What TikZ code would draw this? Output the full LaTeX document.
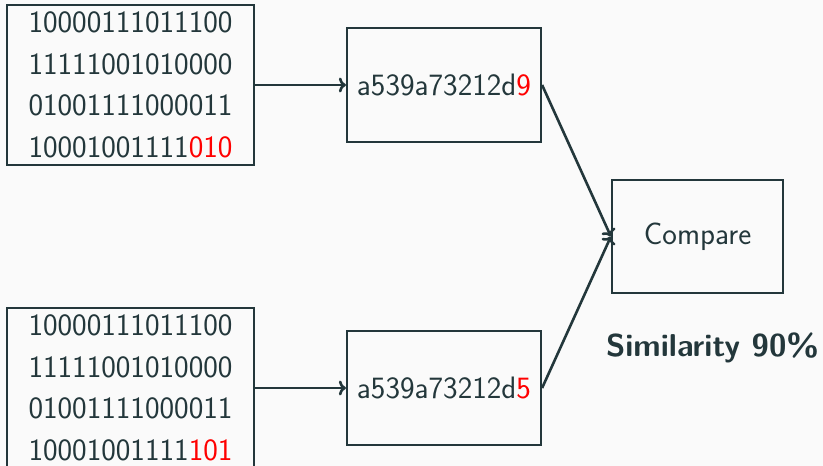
\documentclass[tikz,border=0pt]{standalone}
\usetikzlibrary{arrows.meta}
\definecolor{fg}{HTML}{23373B}
\definecolor{bg}{HTML}{FAFAFA}
\definecolor{hl}{HTML}{FF0000}
\begin{document}
\begin{tikzpicture}[x=1pt,y=1pt,
  every node/.style={font=\sffamily\fontsize{31}{41.6}\selectfont, text=fg},
  bits/.style={draw=fg, line width=2.2pt, minimum width=247, minimum height=160, inner sep=0pt, align=left},
  hashbox/.style={draw=fg, line width=2.2pt, minimum width=194, minimum height=114, inner sep=0pt},
  cmpbox/.style={draw=fg, line width=2.2pt, minimum width=171, minimum height=113, inner sep=0pt},
  conn/.style={draw=fg, line width=2.6pt, -{Computer Modern Rightarrow[length=7pt,width=15pt]}}]
\fill[bg] (0,0) rectangle (823,-466);
\useasboundingbox (0,0) rectangle (823,-466);
\node[bits] (b1) at (130.5,-85) {10000111011100\\11111001010000\\01001111000011\\10001001111\textcolor{hl}{010}};
\node[bits] (b2) at (130.5,-388) {10000111011100\\11111001010000\\01001111000011\\10001001111\textcolor{hl}{101}};
\node[hashbox] (h1) at (444,-85) {a539a73212d\textcolor{hl}{9}};
\node[hashbox] (h2) at (444,-388) {a539a73212d\textcolor{hl}{5}};
\node[cmpbox] (c) at (697.5,-236.5) {Compare};
\node[font=\sffamily\bfseries\fontsize{31.6}{36}\selectfont] (s) at (712.5,-348) {Similarity 90\%};
\draw[conn] (b1.east) -- (h1.west);
\draw[conn] (b2.east) -- (h2.west);
\draw[conn] (h1.east) -- (c.west);
\draw[conn] (h2.east) -- (c.west);
\end{tikzpicture}
\end{document}
